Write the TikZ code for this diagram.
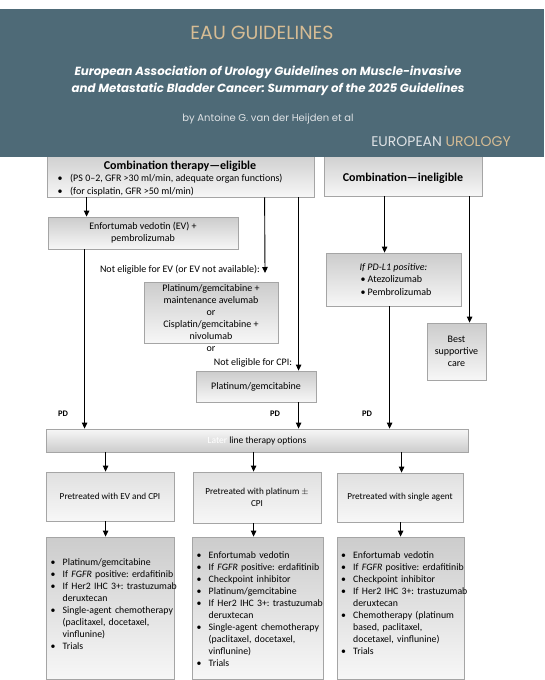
\documentclass[tikz,border=0pt]{standalone}
\usepackage{fontspec}
\setmainfont{Carlito}
\newfontfamily\hdfont{Poppins}
\usetikzlibrary{arrows.meta}
\definecolor{teal1}{RGB}{78,106,119}
\definecolor{tan1}{RGB}{214,188,148}
\definecolor{hdgray}{RGB}{222,226,229}
\definecolor{boxedge}{RGB}{165,165,165}
\definecolor{boxlight}{RGB}{247,247,247}
\definecolor{boxdark}{RGB}{204,204,204}
\definecolor{boxmid}{RGB}{224,224,224}
\frenchspacing
\newcommand\bul[1]{\par\noindent\hangindent=12pt\hangafter=1\hbox to 12pt{\textbullet\hfil}{\let\\\newline#1}\par}
\tikzset{
  box/.style={draw=boxedge, top color=boxdark, bottom color=boxlight, line width=0.8pt,
    inner sep=0pt, align=center, font=\fontsize{10}{12}\selectfont},
  sbox/.style={box, top color=boxmid, bottom color=boxlight, font=\fontsize{9.2}{12}\selectfont},
  arr/.style={-{Triangle[width=5.5pt,length=6pt]}, line width=0.9pt},
  pd/.style={font=\bfseries\fontsize{8.5}{9}\selectfont, inner sep=0pt},
  lbl/.style={font=\fontsize{10}{12}\selectfont, inner sep=0pt},
  listtext/.style={font=\fontsize{9.8}{12}\selectfont, inner sep=0pt, text width=160pt,
    anchor=north west, execute at begin node={\raggedright\frenchspacing}},
  ttl/.style={font=\bfseries\fontsize{12}{14}\selectfont, inner sep=0pt}
}
\begin{document}
\begin{tikzpicture}[x=1pt,y=-1pt]
\useasboundingbox (0,0) rectangle (544,680);
\fill[white] (0,0) rectangle (544,680);

% ---------- top boxes ----------
\node[box, minimum width=267pt, minimum height=45pt] (elig) at (180.5,174.5) {};
\node[box, minimum width=158pt, minimum height=44pt] (inelig) at (403,174) {};
\node[box, minimum width=190pt, minimum height=32pt] (EV) at (143,233) {Enfortumab vedotin (EV) +\\pembrolizumab};
\node[box, minimum width=134pt, minimum height=61pt] (PGav) at (211,312.5)
  {Platinum/gemcitabine +\\maintenance avelumab\\or\\Cisplatin/gemcitabine +\\nivolumab};
\node[box, minimum width=120pt, minimum height=31pt] (Plat) at (256,386.5) {Platinum/gemcitabine};
\node[box, minimum width=135pt, minimum height=53pt, font=\fontsize{10}{12.5}\selectfont] (PDL1) at (393.5,279.5)
  {\textit{If PD-L1 positive:}\\\makebox[66pt][l]{\textbullet\ Atezolizumab}\\\makebox[66pt][l]{\textbullet\ Pembrolizumab}};
\node[box, minimum width=59pt, minimum height=57pt] (BSC) at (456.5,351.5) {Best\\supportive\\care};

% ---------- header band ----------
\fill[teal1] (0,9) rectangle (544,157);
\node[font=\hdfont\fontsize{19}{21}\selectfont, text=tan1, inner sep=0pt] (hEAU) at (262,33) {EAU GUIDELINES};
\node[font=\hdfont\bfseries\itshape\fontsize{11.8}{17}\selectfont, text=white, align=center, inner sep=0pt] (hTitle) at (268,80.5)
  {European Association of Urology Guidelines on Muscle-invasive\\and Metastatic Bladder Cancer: Summary of the 2025 Guidelines};
\node[font=\hdfont\fontsize{10}{12}\selectfont, text=hdgray, inner sep=0pt] (hBy) at (268,119) {by Antoine G. van der Heijden et al};
\node[font=\hdfont\fontsize{14}{16}\selectfont, inner sep=0pt, anchor=east] (hEU) at (511,142)
  {\textcolor{hdgray}{EUROPEAN} \textcolor{tan1}{UROLOGY}};

% ---------- texts in top boxes ----------
\node[ttl] (eligT) at (180,166) {Combination therapy—eligible};
\node[lbl, anchor=west] (eligB1) at (57.5,179) {\makebox[12.5pt][l]{\textbullet}(PS 0–2, GFR >30 ml/min, adequate organ functions)};
\node[lbl, anchor=west] (eligB2) at (57.5,192) {\makebox[12.5pt][l]{\textbullet}(for cisplatin, GFR >50 ml/min)};
\node[ttl] (ineligT) at (403,178) {Combination—ineligible};

% ---------- free labels ----------
\coordinate (evna) at (265,273);
\node[lbl, anchor=east] (evnaL) at (260,270) {Not eligible for EV (or EV not available):};
\node[lbl] (orL) at (211,349) {or};
\node[lbl] (cpiL) at (253,363) {Not eligible for CPI:};
\node[pd] (pd1) at (63,414) {PD};
\node[pd] (pd2) at (275,414) {PD};
\node[pd] (pd3) at (367,414) {PD};

% ---------- second line ----------
\node[box, top color=boxlight, bottom color=boxdark, font=\fontsize{9.5}{12}\selectfont, minimum width=422pt, minimum height=23pt] (second) at (257,440.5)
  {\textcolor{white}{Later} line therapy options};

\node[sbox, minimum width=128pt, minimum height=49pt] (A) at (110,496.5) {Pretreated with EV and CPI};
\node[sbox, minimum width=128pt, minimum height=51pt] (B) at (257,497.5) {Pretreated with platinum $\pm$\\CPI};
\node[sbox, minimum width=126pt, minimum height=49pt] (C) at (400,497.5) {Pretreated with single agent};

\node[box, minimum width=128pt, minimum height=142pt] (D) at (110,608) {};
\node[box, minimum width=131pt, minimum height=142pt] (E) at (257.5,608) {};
\node[box, minimum width=127pt, minimum height=142pt] (F) at (400.5,608) {};

\node[listtext] (Dt) at (50.5,553.5) {%
\bul{Platinum/gemcitabine}
\bul{If \textit{FGFR} positive: erdafitinib}
\bul{If Her2 IHC 3+: trastuzumab\\deruxtecan}
\bul{Single-agent chemotherapy\\(paclitaxel, docetaxel,\\vinflunine)}
\bul{Trials}};
\node[listtext] (Et) at (196.5,546) {%
\bul{Enfortumab vedotin}
\bul{If \textit{FGFR} positive: erdafitinib}
\bul{Checkpoint inhibitor}
\bul{Platinum/gemcitabine}
\bul{If Her2 IHC 3+: trastuzumab\\deruxtecan}
\bul{Single-agent chemotherapy\\(paclitaxel, docetaxel,\\vinflunine)}
\bul{Trials}};
\node[listtext] (Ft) at (341,546) {%
\bul{Enfortumab vedotin}
\bul{If \textit{FGFR} positive: erdafitinib}
\bul{Checkpoint inhibitor}
\bul{If Her2 IHC 3+: trastuzumab\\deruxtecan}
\bul{Chemotherapy (platinum\\based, paclitaxel,\\docetaxel, vinflunine)}
\bul{Trials}};

% ---------- connectors ----------
\draw[arr] ([xshift=40pt]elig.south west) coordinate (s1) -- (s1 |- EV.north);
\draw[arr] ([xshift=218pt]elig.south west) -- (evna);
\draw[arr] ([xshift=252pt]elig.south west) coordinate (s3) -- (s3 |- Plat.north);
\draw[arr] ([xshift=37pt]EV.south west) coordinate (s4) -- (s4 |- second.north);
\draw[arr] ([xshift=103pt]Plat.south west) coordinate (s5) -- (s5 |- second.north);
\draw[arr] ([xshift=64pt]PDL1.south west) coordinate (s6) -- (s6 |- second.north);
\draw[arr] ([xshift=61pt]inelig.south west) coordinate (s7) -- (s7 |- PDL1.north);
\draw[arr] ([xshift=146pt]inelig.south west) coordinate (s8) -- (s8 |- BSC.north);
\draw[arr] ([xshift=60pt]second.south west) coordinate (s9) -- (s9 |- A.north);
\draw[arr] ([xshift=208pt]second.south west) coordinate (s10) -- (s10 |- B.north);
\draw[arr] ([xshift=356pt]second.south west) coordinate (s11) -- (s11 |- C.north);
\draw[arr] ([xshift=60pt]A.south west) coordinate (s12) -- (s12 |- D.north);
\draw[arr] ([xshift=61pt]B.south west) coordinate (s13) -- (s13 |- E.north);
\draw[arr] ([xshift=64pt]C.south west) coordinate (s14) -- (s14 |- F.north);
\end{tikzpicture}
\end{document}
